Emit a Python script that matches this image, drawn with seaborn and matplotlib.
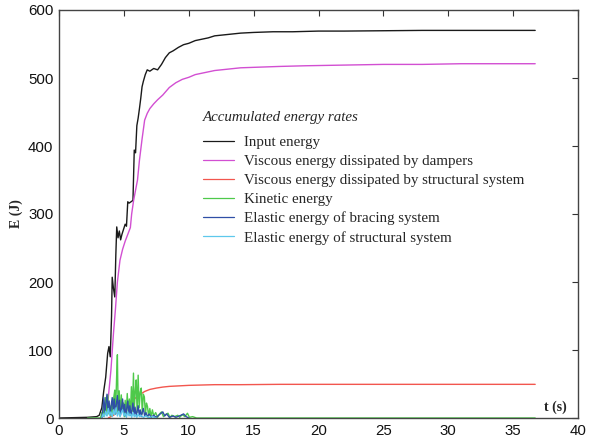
import numpy as np
import pandas as pd
import matplotlib
matplotlib.use("Agg")
import matplotlib.pyplot as plt
import seaborn as sns

# ---- energy histories (t in s, E in J) ----
input_t = [0, 2.2, 2.9, 3.1, 3.3, 3.45, 3.6, 3.75, 3.85, 3.95,
           4.05, 4.1, 4.2, 4.3, 4.38, 4.45, 4.55, 4.65, 4.75, 4.85,
           5.0, 5.1, 5.2, 5.3, 5.4, 5.55, 5.7, 5.8, 5.9, 6.0,
           6.1, 6.2, 6.3, 6.4, 6.5, 6.65, 6.8, 7.0, 7.3, 7.6,
           7.9, 8.2, 8.5, 8.8, 9.2, 9.6, 10.0, 10.5, 11.0, 11.5,
           12.0, 13.0, 14.0, 15.0, 16.5, 18, 20, 22, 25, 28,
           31, 34, 36.7]
input_e = [0, 1, 2, 4, 15, 40, 60, 95, 105, 90,
           150, 207, 190, 178, 240, 281, 265, 275, 262, 270,
           279, 285, 282, 318, 316, 318, 320, 394, 390, 430,
           441, 455, 470, 487, 495, 505, 512, 510, 514, 512,
           520, 530, 537, 540, 545, 549, 551, 555, 557, 559,
           562, 564, 566, 567, 568, 568, 569, 569, 569.5, 570,
           570, 570, 570]

dampers_t = [3.3, 3.6, 3.8, 4.0, 4.2, 4.35, 4.5, 4.7, 4.9,
             5.1, 5.3, 5.5, 5.6, 5.75, 5.9, 6.05, 6.2, 6.4, 6.6,
             6.8, 7.0, 7.3, 7.6, 8.0, 8.5, 9.0, 9.5, 10.0, 10.5,
             11.0, 12.0, 13.0, 14.0, 15.5, 17.0, 19.0, 22.0, 25.0, 28.0,
             31.0, 34.0, 36.7]
dampers_e = [0, 10, 30, 70, 125, 160, 200, 232, 248,
             260, 270, 280, 300, 320, 335, 350, 379, 410, 438,
             448, 455, 462, 468, 475, 486, 493, 498, 501, 505,
             507, 511, 513, 515, 516, 517, 518, 519, 520, 520,
             521, 521, 521]

structure_t = [3.8, 4.2, 4.6, 5.0, 5.4, 5.8, 6.2, 6.6, 7.0, 7.5,
               8.0, 8.5, 9.0, 10.0, 11.0, 12.0, 14.0, 17.0, 20.0, 25.0,
               30.0, 36.7]
structure_e = [0, 4, 10, 16, 22, 28, 34, 39, 42, 44,
               45.5, 46.5, 47, 48, 48.5, 49, 49, 49.5, 49.5, 49.5,
               49.5, 49.5]

kinetic_t = [2.2, 3.2, 3.3, 3.38, 3.45, 3.52, 3.6, 3.68, 3.76, 3.84,
             3.92, 4.0, 4.06, 4.14, 4.22, 4.3, 4.36, 4.44, 4.5, 4.56,
             4.64, 4.72, 4.8, 4.88, 4.96, 5.04, 5.1, 5.18, 5.26, 5.34,
             5.42, 5.5, 5.58, 5.66, 5.74, 5.8, 5.88, 5.95, 6.02, 6.1,
             6.18, 6.26, 6.34, 6.42, 6.5, 6.58, 6.66, 6.74, 6.82, 6.9,
             7.0, 7.1, 7.2, 7.3, 7.45, 7.6, 7.75, 7.9, 8.05, 8.2,
             8.4, 8.55, 8.7, 8.9, 9.15, 9.3, 9.5, 9.7, 9.9, 10.05,
             10.3, 10.6, 36.7]
kinetic_e = [0, 0, 8, 2, 22, 5, 30, 4, 34, 6,
             18, 3, 24, 5, 30, 41, 6, 60, 93, 8,
             40, 3, 34, 10, 22, 2, 26, 6, 36, 8,
             28, 4, 46, 10, 66, 12, 40, 56, 8, 63,
             15, 38, 44, 6, 35, 31, 4, 22, 17, 3,
             14, 2, 12, 3, 8, 1, 6, 9, 2, 5,
             7, 1, 4, 2, 4, 1, 5, 2, 7, 1,
             2, 0, 0]

bracing_t = [3.3, 3.38, 3.46, 3.54, 3.62, 3.7, 3.78, 3.86, 3.94, 4.02,
             4.1, 4.18, 4.26, 4.34, 4.42, 4.5, 4.58, 4.66, 4.74, 4.82,
             4.9, 4.98, 5.06, 5.14, 5.22, 5.3, 5.38, 5.46, 5.54, 5.62,
             5.7, 5.78, 5.86, 5.94, 6.02, 6.1, 6.18, 6.26, 6.34, 6.42,
             6.5, 6.6, 6.7, 6.8, 6.95, 7.1, 7.3, 7.5, 7.8, 8.0,
             8.15, 8.3, 8.5, 8.8, 9.0, 9.4, 9.6, 9.8, 10.0]
bracing_e = [0, 12, 30, 8, 22, 35, 10, 25, 5, 18,
             30, 12, 28, 6, 20, 33, 10, 26, 4, 15,
             28, 8, 20, 3, 14, 25, 6, 18, 4, 12,
             22, 5, 16, 3, 10, 18, 4, 12, 2, 9,
             14, 3, 8, 2, 6, 1, 4, 1, 6, 9,
             3, 6, 1, 3, 1, 4, 6, 2, 0]

frame_t = [3.3, 3.4, 3.5, 3.6, 3.7, 3.8, 3.9, 4.0, 4.1, 4.2,
           4.3, 4.4, 4.5, 4.6, 4.7, 4.8, 4.9, 5.0, 5.1, 5.2,
           5.3, 5.4, 5.5, 5.6, 5.7, 5.8, 5.9, 6.0, 6.1, 6.2,
           6.3, 6.5, 6.7, 6.9, 7.2, 7.5]
frame_e = [0, 6, 2, 10, 3, 14, 4, 9, 2, 12,
           5, 15, 3, 10, 2, 8, 12, 3, 7, 1,
           9, 3, 6, 1, 8, 2, 5, 1, 6, 2,
           4, 1, 3, 0.5, 2, 0]

series_labels = ["Input energy",
                 "Viscous energy dissipated by dampers",
                 "Viscous energy dissipated by structural system",
                 "Kinetic energy",
                 "Elastic energy of bracing system",
                 "Elastic energy of structural system"]
series_colors = ["#1a1a1a", "#d24fd2", "#f2564e", "#4ec94a", "#2f4fa6", "#5ec8ec"]

x_ticks = [0, 5, 10, 15, 20, 25, 30, 35, 40]
y_ticks = [0, 100, 200, 300, 400, 500, 600]

sns.set_style("white")
plt.rcParams["font.family"] = ["Liberation Sans", "DejaVu Sans"]

fig = plt.figure(figsize=(5.91, 4.45), dpi=100)
ax = fig.add_axes([59 / 591, 1 - 418 / 445, 519 / 591, 408 / 445])

series = [(input_t, input_e), (dampers_t, dampers_e), (structure_t, structure_e),
          (kinetic_t, kinetic_e), (bracing_t, bracing_e), (frame_t, frame_e)]
for (t, e), lab, col in zip(series, series_labels, series_colors):
    df = pd.DataFrame({"t": t, "E": e})
    sns.lineplot(data=df, x="t", y="E", ax=ax, color=col, lw=1.0,
                 estimator=None, sort=False, label=lab)

ax.set_xlim(0, 40)
ax.set_ylim(0, 600)
ax.set_xticks(x_ticks)
ax.set_yticks(y_ticks)
ax.tick_params(direction="in", length=4, width=0.8, top=True, right=True,
               labelsize=10.8, colors="#333333", labelcolor="#111111", pad=4)
for sp in ax.spines.values():
    sp.set_visible(True)
    sp.set_color("#444444")
    sp.set_linewidth(1.0)

serif = ["Liberation Serif", "DejaVu Serif"]
ax.set_ylabel("E (J)", family=serif, fontweight="bold", fontsize=10, labelpad=4)
ax.set_xlabel("t (s)", family=serif, fontweight="bold", fontsize=10, va="center")
ax.xaxis.set_label_coords(0.957, 0.026)

leg = ax.legend(loc="upper left", bbox_to_anchor=(0.277, 0.752), frameon=False,
                prop={"family": serif, "size": 10.8},
                title="Accumulated energy rates",
                title_fontproperties={"family": serif, "style": "italic", "size": 10.8},
                alignment="left", handlelength=2.1, handletextpad=0.65,
                labelspacing=0.37, borderpad=0, borderaxespad=0)
# extra room between the italic title and the entries
leg._legend_box.sep = 8
for h in leg.get_lines():
    h.set_linewidth(0.9)

fig.savefig("out.png", dpi=100)
